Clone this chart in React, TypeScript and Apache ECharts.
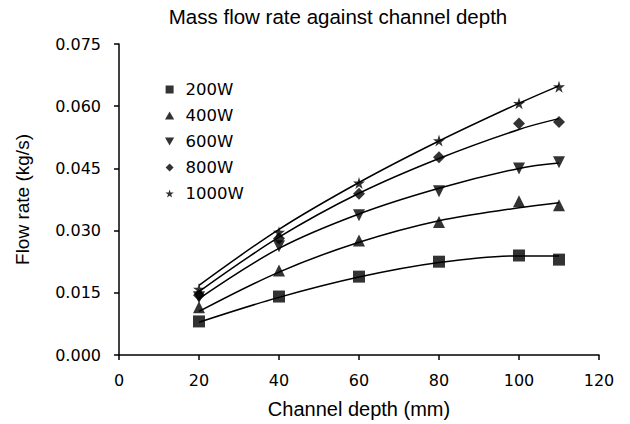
import React, { useEffect, useRef } from "react";
import * as echarts from "echarts";

const depthValues = [20, 40, 60, 80, 100, 110];
const seriesNames = ["200W", "400W", "600W", "800W", "1000W"];

const flow200 = [0.0081, 0.0141, 0.0189, 0.0225, 0.024, 0.023];
const flow400 = [0.0115, 0.0204, 0.0276, 0.0321, 0.0371, 0.0361];
const flow600 = [0.0139, 0.0262, 0.0337, 0.0395, 0.045, 0.0465];
const flow800 = [0.0144, 0.0281, 0.0389, 0.0477, 0.0558, 0.0562];
const flow1000 = [0.0159, 0.0296, 0.0415, 0.0517, 0.0607, 0.0647];

// trend-line values at the same depths
const trend200 = [0.0079, 0.0139, 0.0188, 0.0223, 0.0239, 0.0239];
const trend400 = [0.0105, 0.02, 0.0272, 0.0324, 0.0355, 0.0367];
const trend600 = [0.0136, 0.0257, 0.034, 0.0402, 0.045, 0.0463];
const trend800 = [0.0153, 0.0284, 0.039, 0.0474, 0.0544, 0.057];
const trend1000 = [0.0168, 0.0303, 0.0416, 0.0516, 0.0607, 0.0649];

const xTicks = [0, 20, 40, 60, 80, 100, 120];
const yTicks = [0, 0.015, 0.03, 0.045, 0.06, 0.075];

const flows = [flow200, flow400, flow600, flow800, flow1000];
const trends = [trend200, trend400, trend600, trend800, trend1000];

const symbols = [
  "path://M0,0 L100,0 L100,100 L0,100 Z",
  "path://M50,0 L100,87 L0,87 Z",
  "path://M0,0 L100,0 L50,87 Z",
  "path://M50,0 L100,50 L50,100 L0,50 Z",
  "path://M50,0 L61,35 L98,35 L68,57 L79,91 L50,70 L21,91 L32,57 L2,35 L39,35 Z",
];
const symbolSizes = [12, 12, 12, 12, 12];

const sans = "Liberation Sans, Arial, Helvetica, sans-serif";
const wide = "DejaVu Sans, Verdana, sans-serif";

export default function App() {
  const ref = useRef<HTMLDivElement>(null);
  useEffect(() => {
    document.body.style.margin = "0";
    const chart = echarts.init(ref.current!, null, { renderer: "svg" });
    const pair = (xs: number[], ys: number[]) => xs.map((x, i) => [x, ys[i]]);
    const series: any[] = [];
    seriesNames.forEach((name, i) => {
      series.push({
        name: name + " trend",
        type: "line",
        smooth: 0.35,
        showSymbol: false,
        symbol: "none",
        lineStyle: { color: "#000", width: 1.5 },
        data: pair(depthValues, trends[i]),
        z: 2,
      });
    });
    seriesNames.forEach((name, i) => {
      series.push({
        name,
        type: "scatter",
        symbol: symbols[i],
        symbolSize: symbolSizes[i],
        itemStyle: { color: "#000" },
        data: pair(depthValues, flows[i]),
        z: 3,
      });
    });
    chart.setOption({
      animation: false,
      backgroundColor: "#fff",
      title: {
        text: "Mass flow rate against channel depth",
        left: 333,
        top: 1,
        textAlign: "center",
        textStyle: { fontFamily: sans, fontSize: 20.5, fontWeight: "normal", color: "#000" },
      },
      legend: {
        data: seriesNames,
        orient: "vertical",
        left: 160,
        top: 76,
        itemWidth: 22,
        itemHeight: 8,
        itemGap: 9,
        textStyle: { fontFamily: wide, fontSize: 16.5, color: "#000", lineHeight: 16 },
      },
      grid: { left: 119, right: 31, top: 44, bottom: 68, containLabel: false },
      xAxis: {
        type: "value",
        min: xTicks[0],
        max: xTicks[xTicks.length - 1],
        interval: xTicks[1] - xTicks[0],
        name: "Channel depth (mm)",
        nameLocation: "middle",
        nameGap: 44,
        nameTextStyle: { fontFamily: sans, fontSize: 20, color: "#000" },
        axisLine: { lineStyle: { color: "#000", width: 1.5 } },
        axisTick: { show: true, length: 5, lineStyle: { color: "#000", width: 1.5 } },
        axisLabel: { fontFamily: wide, fontSize: 16, color: "#000", margin: 17 },
        splitLine: { show: false },
      },
      yAxis: {
        type: "value",
        min: yTicks[0],
        max: yTicks[yTicks.length - 1],
        interval: yTicks[1] - yTicks[0],
        name: "Flow rate (kg/s)",
        nameLocation: "middle",
        nameGap: 87,
        nameTextStyle: { fontFamily: sans, fontSize: 19, color: "#000" },
        axisLine: { show: true, lineStyle: { color: "#000", width: 1.5 } },
        axisTick: { show: true, length: 5, lineStyle: { color: "#000", width: 1.5 } },
        axisLabel: {
          fontFamily: wide,
          fontSize: 16,
          color: "#000",
          margin: 18,
          formatter: (v: number) => v.toFixed(3),
        },
        splitLine: { show: false },
      },
      series,
    });
    return () => chart.dispose();
  }, []);
  return (
    <div
      ref={ref}
      style={{ position: "absolute", left: 0, top: 0, width: 630, height: 424 }}
    />
  );
}
